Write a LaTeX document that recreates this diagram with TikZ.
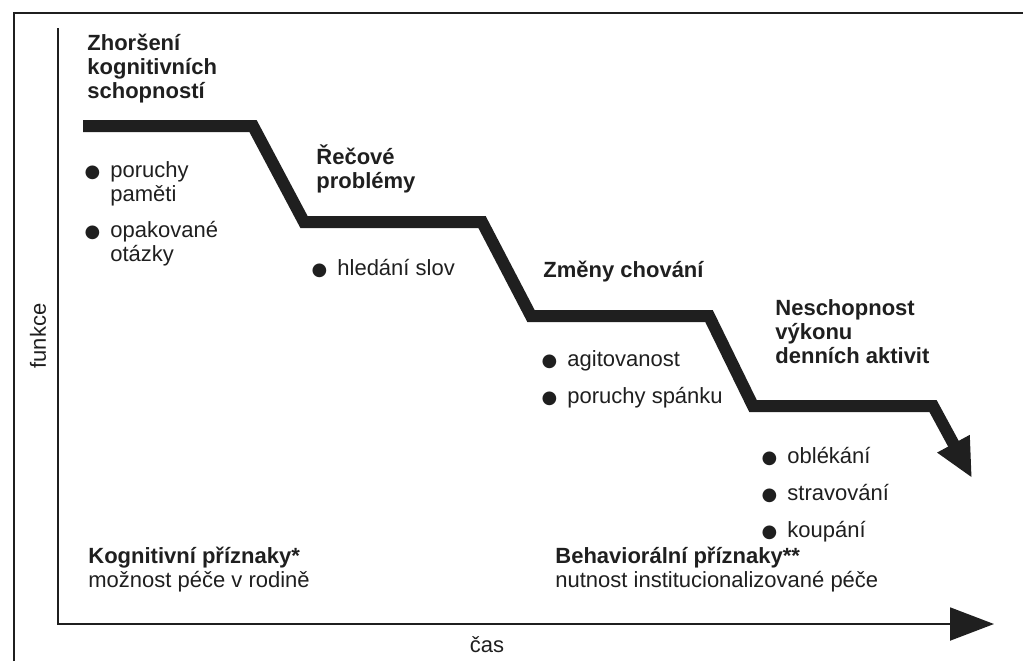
\documentclass[tikz,border=0pt]{standalone}
\usepackage{fontspec}
\setmainfont{Liberation Sans}
\newfontfamily\dejavu{DejaVu Sans}
\usetikzlibrary{arrows.meta}
\definecolor{ink}{gray}{0.12}
\newcommand{\bul}{\llap{{\dejavu\fontsize{9}{9}\selectfont ●}\hspace{5pt}}}

\begin{document}
\begin{tikzpicture}[x=0.5pt, y=-0.5pt,
        every node/.style={inner sep=0pt, text=ink, font=\fontsize{11}{12}\selectfont},
        head/.style={anchor=base west, align=left, font=\fontsize{11}{12}\selectfont\bfseries},
        item/.style={anchor=base west, align=left},
        stair/.style={draw=ink, line width=6pt, line join=miter, -{Triangle[length=19.5pt, width=17pt]}},
        axis/.style={draw=ink, line width=1pt, -{Triangle[length=22pt, width=16.5pt]}}
    ]
    \useasboundingbox (0,0) rectangle (1023,661);
    % frame of the page
    \draw[ink, line width=0.8pt] (14,661) -- (14,13) -- (1023,13);
    % axes
    \coordinate (ytop) at (58,28);
    \coordinate (orig) at (58,624);
    \coordinate (xend) at (994,624);
    \draw[axis] (ytop) -- (orig) -- (xend);
    \node[rotate=90] (funkce) at (38,336) {funkce};
    \node[anchor=base] (cas) at (487,652) {čas};
    % the stairs
    \draw[stair] (83,126) -- (253,126) -- (304,222) -- (482,222) -- (531,316)
        -- (709,316) -- (753,406) -- (933,406) -- (972,478);
    % stage 1 (multi-line nodes sit on their last baseline)
    \node[head] (zhorseni) at (87,98) {Zhoršení\\kognitivních\\schopností};
    \node[item] (poruchy) at (110,201) {\bul poruchy\\paměti};
    \node[item] (opakovane) at (110,261) {\bul opakované\\otázky};
    % stage 2
    \node[head] (reci) at (316,188) {Řečové\\problémy};
    \node[item] (hledani) at (337,275) {\bul hledání slov};
    % stage 3
    \node[head] (zmeny) at (543,277) {Změny chování};
    \node[item] (agit) at (567,366) {\bul agitovanost};
    \node[item] (spanek) at (567,403) {\bul poruchy spánku};
    % stage 4
    \node[head] (neschop) at (775,363) {Neschopnost\\výkonu\\denních aktivit};
    \node[item] (oblek) at (787,463) {\bul oblékání};
    \node[item] (strava) at (787,500) {\bul stravování};
    \node[item] (koupani) at (787,537) {\bul koupání};
    % bottom notes
    \node[item] (kognit) at (88,587) {\textbf{Kognitivní příznaky*}\\možnost péče v rodině};
    \node[item] (behav) at (555,587) {\textbf{Behaviorální příznaky**}\\nutnost institucionalizované péče};
\end{tikzpicture}
\end{document}
